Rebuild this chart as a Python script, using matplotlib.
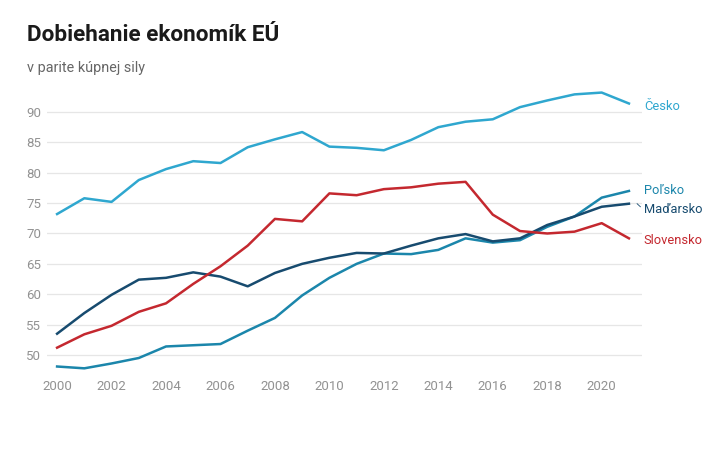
import matplotlib.pyplot as plt

plt.rcParams['font.family'] = ['Roboto', 'DejaVu Sans']

years = list(range(2000, 2022))
cesko = [73.2, 75.8, 75.2, 78.8, 80.6, 81.9, 81.6, 84.2, 85.5, 86.7, 84.3,
         84.1, 83.7, 85.4, 87.5, 88.4, 88.8, 90.8, 91.9, 92.9, 93.2, 91.4]
polsko = [48.1, 47.8, 48.6, 49.5, 51.4, 51.6, 51.8, 54.0, 56.1, 59.8, 62.7,
          65.0, 66.7, 66.6, 67.3, 69.2, 68.5, 68.9, 71.1, 72.8, 75.9, 77.0]
madarsko = [53.5, 56.9, 59.9, 62.4, 62.7, 63.6, 62.9, 61.3, 63.5, 65.0, 66.0,
            66.8, 66.7, 68.0, 69.2, 69.9, 68.7, 69.2, 71.4, 72.8, 74.4, 74.9]
slovensko = [51.2, 53.4, 54.8, 57.1, 58.5, 61.7, 64.6, 68.0, 72.4, 72.0, 76.6,
             76.3, 77.3, 77.6, 78.2, 78.5, 73.1, 70.4, 70.0, 70.3, 71.7, 69.2]

names = ['Česko', 'Poľsko', 'Maďarsko', 'Slovensko']
colors = ['#2fa7cf', '#1b86ab', '#174b6f', '#c4282f']
label_y = [90.9, 77.1, 73.9, 68.9]

fig = plt.figure(figsize=(7.2, 4.5), dpi=100)
ax = fig.add_axes([0.0653, 0.1707, 0.826, 0.6344])

series = [cesko, polsko, madarsko, slovensko]
for vals, c in zip(series, colors):
    ax.plot(years, vals, color=c, lw=1.8, solid_joinstyle='round')

# popisky na konci čiar
for name, c, ly, vals in zip(names, colors, label_y, series):
    ax.annotate(name, xy=(2021, vals[-1]), xytext=(2021.55, ly),
                color=c, fontsize=9.3, va='center', ha='left',
                annotation_clip=False)
    if abs(ly - vals[-1]) > 0.5:
        ax.plot([2021.3, 2021.42], [vals[-1], (vals[-1] + ly) / 2],
                color=c, lw=0.6, clip_on=False)

ax.set_xlim(1999.63, 2021.47)
ax.set_ylim(47, 94)
ax.set_yticks(range(50, 91, 5))
ax.set_xticks(range(2000, 2021, 2))
ax.grid(axis='y', color='#e6e6e6', lw=0.9)
ax.set_axisbelow(True)
for s in ax.spines.values():
    s.set_visible(False)
ax.tick_params(length=0, colors='#929292', labelsize=9.5)
ax.tick_params(axis='y', pad=4)
ax.tick_params(axis='x', pad=5)

fig.text(0.038, 0.922, 'Dobiehanie ekonomík EÚ', fontsize=16.2,
         fontweight='bold', color='#1a1a1a', va='center')
fig.text(0.038, 0.849, 'v parite kúpnej sily', fontsize=10.4,
         color='#666666', va='center')

fig.savefig('out.png', dpi=100)
